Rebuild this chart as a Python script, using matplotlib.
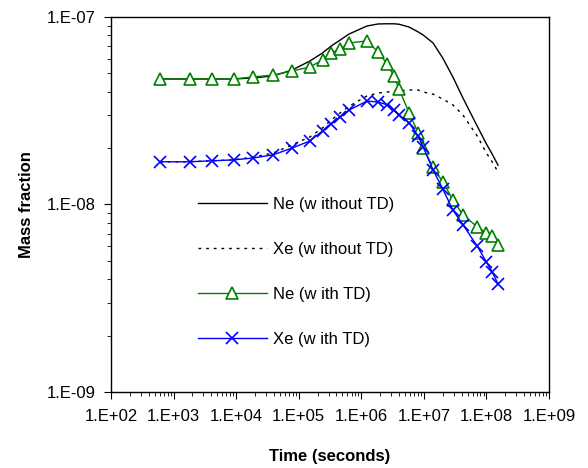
import matplotlib
matplotlib.use("Agg")
import matplotlib.pyplot as plt

plt.rcParams["font.family"] = ["Liberation Sans", "DejaVu Sans"]

# output times (s), shared by all four runs
time_s = [6.1e2, 1.83e3, 4.1e3, 9.2e3, 1.86e4, 3.9e4, 7.8e4, 1.5e5, 2.4e5, 3.3e5,
          4.6e5, 6.4e5, 1.23e6, 1.85e6, 2.6e6, 3.3e6, 4.0e6, 5.8e6, 8.1e6, 9.7e6,
          1.4e7, 2.0e7, 2.9e7, 4.2e7, 7.1e7, 1.0e8, 1.23e8, 1.53e8]

ne_no_td = [4.67e-8, 4.67e-8, 4.67e-8, 4.67e-8, 4.73e-8, 4.85e-8, 5.21e-8, 5.82e-8,
            6.43e-8, 7.0e-8, 7.54e-8, 8.12e-8, 8.95e-8, 9.18e-8, 9.2e-8, 9.2e-8,
            9.15e-8, 8.84e-8, 8.32e-8, 8.02e-8, 7.27e-8, 6.04e-8, 4.79e-8, 3.70e-8,
            2.62e-8, 2.10e-8, 1.86e-8, 1.62e-8]

xe_no_td = [1.69e-8, 1.69e-8, 1.71e-8, 1.73e-8, 1.79e-8, 1.88e-8, 2.08e-8, 2.29e-8,
            2.56e-8, 2.82e-8, 3.08e-8, 3.35e-8, 3.79e-8, 3.93e-8, 3.98e-8, 4.03e-8,
            4.03e-8, 4.08e-8, 4.08e-8, 3.98e-8, 3.88e-8, 3.65e-8, 3.40e-8, 3.00e-8,
            2.32e-8, 1.88e-8, 1.69e-8, 1.49e-8]

ne_td = [4.67e-8, 4.67e-8, 4.67e-8, 4.67e-8, 4.79e-8, 4.90e-8, 5.15e-8, 5.41e-8,
         5.90e-8, 6.43e-8, 6.75e-8, 7.27e-8, 7.45e-8, 6.51e-8, 5.60e-8, 4.85e-8,
         4.13e-8, 3.08e-8, 2.41e-8, 2.0e-8, 1.58e-8, 1.32e-8, 1.06e-8, 8.8e-9,
         7.6e-9, 7.05e-9, 6.8e-9, 6.1e-9]

xe_td = [1.69e-8, 1.69e-8, 1.71e-8, 1.73e-8, 1.77e-8, 1.84e-8, 2.0e-8, 2.18e-8,
         2.47e-8, 2.69e-8, 2.93e-8, 3.19e-8, 3.56e-8, 3.52e-8, 3.40e-8, 3.19e-8,
         3.0e-8, 2.72e-8, 2.32e-8, 2.03e-8, 1.53e-8, 1.21e-8, 9.35e-9, 7.8e-9,
         6.0e-9, 4.93e-9, 4.37e-9, 3.77e-9]

x_ticks = [1e2, 1e3, 1e4, 1e5, 1e6, 1e7, 1e8, 1e9]
x_labels = ["1.E+02", "1.E+03", "1.E+04", "1.E+05", "1.E+06", "1.E+07", "1.E+08", "1.E+09"]
y_ticks = [1e-9, 1e-8, 1e-7]
y_labels = ["1.E-09", "1.E-08", "1.E-07"]

fig = plt.figure(figsize=(5.88, 4.68), dpi=100)
ax = fig.add_axes([0.1888, 0.1624, 0.745, 0.8013])

ax.plot(time_s, ne_no_td, color="black", lw=1.0, label="Ne (w ithout TD)")
ax.plot(time_s, xe_no_td, color="black", lw=1.0, ls=(0, (2, 3.5)), label="Xe (w ithout TD)")
ax.plot(time_s, ne_td, color="#008000", lw=1.0, marker="^", ms=8, mfc="white",
        mec="#008000", mew=1.2, label="Ne (w ith TD)")
ax.plot(time_s, xe_td, color="#0000ff", lw=1.0, marker="x", ms=8, mew=1.2,
        label="Xe (w ith TD)")

ax.set_xscale("log")
ax.set_yscale("log")
ax.set_xlim(1e2, 1e9)
ax.set_ylim(1e-9, 1e-7)
ax.set_xticks(x_ticks)
ax.set_xticklabels(x_labels)
ax.set_yticks(y_ticks)
ax.set_yticklabels(y_labels)
ax.tick_params(which="both", direction="out", labelsize=12, color="black")
ax.tick_params(which="major", length=5)
ax.tick_params(which="minor", length=3)
ax.tick_params(axis="x", which="major", pad=7)
ax.tick_params(axis="y", which="major", pad=6)
for s in ax.spines.values():
    s.set_linewidth(1.0)

ax.set_xlabel("Time (seconds)", fontsize=12, fontweight="bold", labelpad=18)
ax.set_ylabel("Mass fraction", fontsize=12, fontweight="bold", labelpad=9)

ax.legend(loc="center left", bbox_to_anchor=(0.199, 0.321), frameon=False,
          fontsize=12, handlelength=4.1, handletextpad=0.4, labelspacing=1.8,
          borderaxespad=0, borderpad=0, numpoints=1)

fig.savefig("out.png", dpi=100)
